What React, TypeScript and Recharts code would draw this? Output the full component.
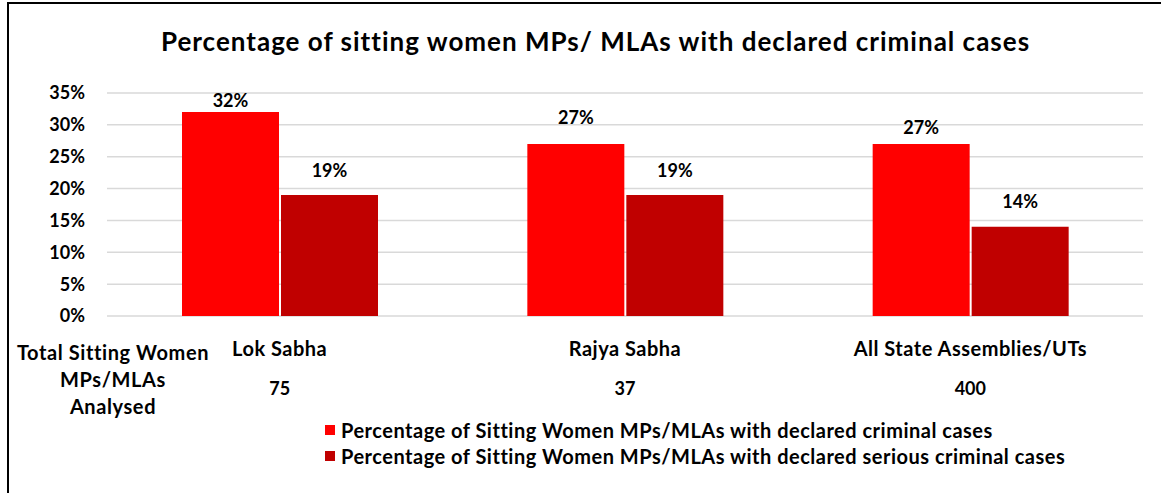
import React from 'react';
import { BarChart, Bar, XAxis, YAxis, CartesianGrid, LabelList, Legend } from 'recharts';

const title = 'Percentage of sitting women MPs/ MLAs with declared criminal cases';
const categories = ['Lok Sabha', 'Rajya Sabha', 'All State Assemblies/UTs'];
const totalAnalysed = [75, 37, 400];
const criminalPct = [32, 27, 27];
const seriousPct = [19, 19, 14];
const yTicks = [0, 5, 10, 15, 20, 25, 30, 35];
const rowHeader = ['Total Sitting Women', 'MPs/MLAs', 'Analysed'];
const seriesNames = [
  'Percentage of Sitting Women MPs/MLAs with declared criminal cases',
  'Percentage of Sitting Women MPs/MLAs with declared serious criminal cases',
];

const RED = '#FF0000';
const DARK = '#C00000';
const FONT = 'Lato, "Open Sans", sans-serif';

const data = categories.map((c, i) => ({
  name: c,
  criminal: criminalPct[i],
  serious: seriousPct[i],
}));

// label lift above bar top (style only)
const liftCriminal = [12, 27, 17];
const liftSerious = [25, 25, 26];

const makeLabel = (lifts: number[]) => (props: any) => {
  const { x, y, width, value, index } = props;
  return (
    <text
      x={x + width / 2}
      y={y - lifts[index]}
      textAnchor="middle"
      dominantBaseline="central"
      fontFamily={FONT}
      fontWeight={700}
      fontSize={18}
      fill="#000"
    >
      {value}%
    </text>
  );
};

const XTick = (props: any) => {
  const { x, y, payload, index } = props;
  return (
    <g>
      <text x={x} y={y + 32} textAnchor="middle" dominantBaseline="central" fontFamily={FONT} fontWeight={700} fontSize={20} letterSpacing={0.5} fill="#000">
        {payload.value}
      </text>
      <text x={x} y={y + 72} textAnchor="middle" dominantBaseline="central" fontFamily={FONT} fontWeight={700} fontSize={18} fill="#000">
        {totalAnalysed[index]}
      </text>
    </g>
  );
};

const LegendContent = (props: any) => {
  const { payload } = props;
  return (
    <div style={{ fontFamily: FONT, fontWeight: 700, fontSize: 20, letterSpacing: 0.5, color: '#000' }}>
      {(payload || []).map((p: any, i: number) => (
        <div key={i} style={{ display: 'flex', alignItems: 'center', height: 26, whiteSpace: 'nowrap' }}>
          <span style={{ display: 'inline-block', width: 10, height: 10, background: p.color, marginRight: 6 }} />
          <span>{p.value}</span>
        </div>
      ))}
    </div>
  );
};

export default function App() {
  return (
    <div style={{ position: 'absolute', left: 0, top: 0, width: 1161, height: 493, overflow: 'hidden', background: '#fff' }}>
      <div style={{ position: 'absolute', left: 7, top: 2, width: 1200, height: 540, border: '2px solid #000', boxSizing: 'border-box' }} />
      <div
        style={{
          position: 'absolute',
          left: 15,
          top: 23,
          width: 1161,
          textAlign: 'center',
          fontFamily: FONT,
          fontWeight: 700,
          fontSize: 26,
          letterSpacing: 1,
          color: '#000',
          whiteSpace: 'nowrap',
          lineHeight: '36px',
        }}
      >
        {title}
      </div>
      <div
        style={{
          position: 'absolute',
          left: 13,
          top: 339,
          width: 200,
          textAlign: 'center',
          fontFamily: FONT,
          fontWeight: 700,
          fontSize: 20,
          letterSpacing: 0.6,
          lineHeight: '27px',
          color: '#000',
        }}
      >
        {rowHeader.map((l, i) => (
          <div key={i}>{l}</div>
        ))}
      </div>
      <div style={{ position: 'absolute', left: 0, top: 0 }}>
        <BarChart
          width={1161}
          height={493}
          data={data}
          margin={{ top: 93, right: 18, bottom: 77, left: 0 }}
          barCategoryGap={75}
          barGap={2}
        >
          <CartesianGrid vertical={false} stroke="#d9d9d9" strokeWidth={1.5} />
          <YAxis
            width={107}
            domain={[0, 35]}
            ticks={yTicks}
            tickFormatter={(v: number) => `${v}%`}
            axisLine={false}
            tickLine={false}
            tickSize={0}
            tickMargin={22}
            tick={{ fontFamily: FONT, fontWeight: 700, fontSize: 18, fill: '#000' }}
          />
          <XAxis
            dataKey="name"
            height={100}
            axisLine={false}
            tickLine={false}
            tickSize={0}
            tickMargin={0}
            interval={0}
            tick={<XTick />}
          />
          <Legend
            layout="vertical"
            align="center"
            verticalAlign="middle"
            wrapperStyle={{ left: 325, top: 417, width: 800 }}
            content={<LegendContent />}
          />
          <Bar dataKey="criminal" name={seriesNames[0]} fill={RED} isAnimationActive={false}>
            <LabelList dataKey="criminal" content={makeLabel(liftCriminal)} />
          </Bar>
          <Bar dataKey="serious" name={seriesNames[1]} fill={DARK} isAnimationActive={false}>
            <LabelList dataKey="serious" content={makeLabel(liftSerious)} />
          </Bar>
        </BarChart>
      </div>
    </div>
  );
}
